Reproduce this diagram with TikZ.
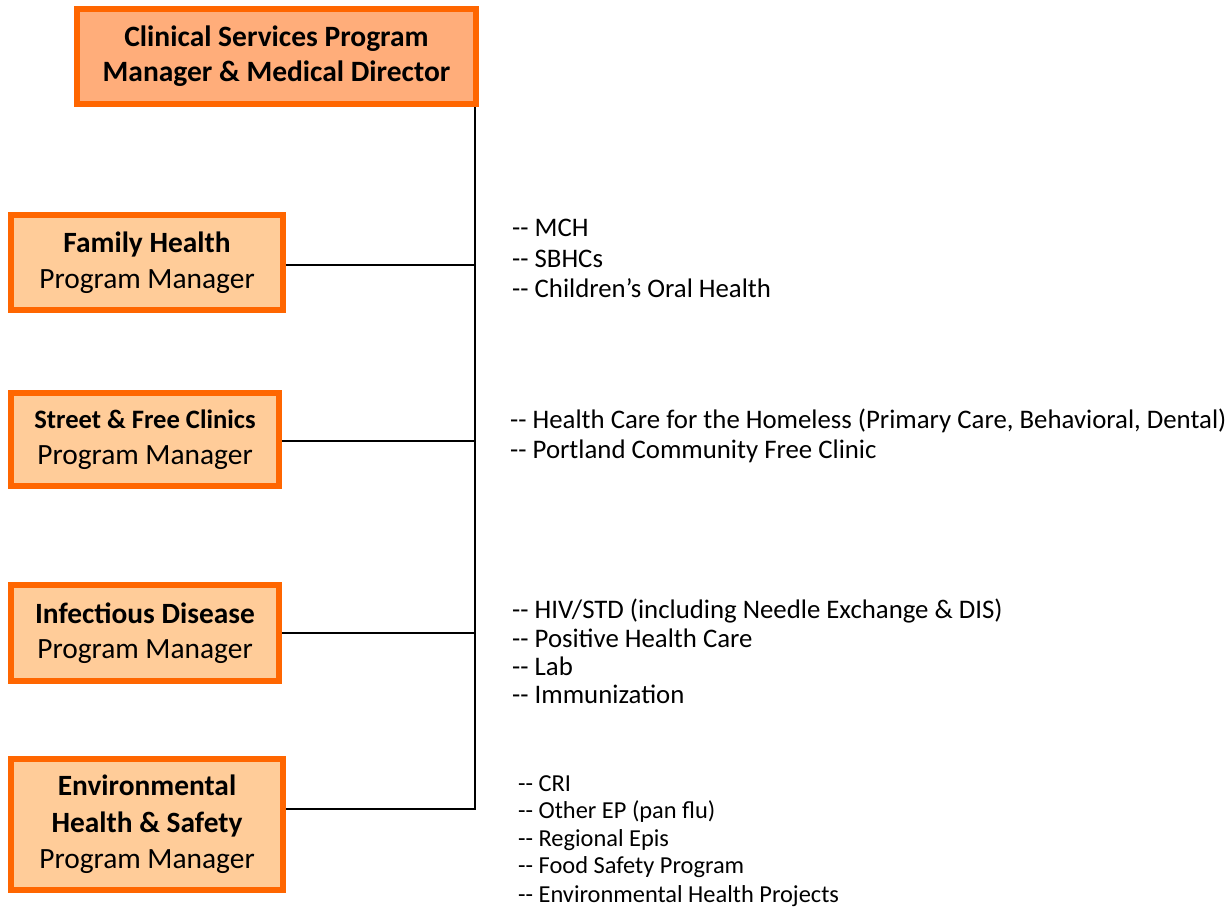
\documentclass[tikz,border=0pt]{standalone}
\usepackage{fontspec}
\setmainfont{Carlito}
\definecolor{borderor}{HTML}{FF6600}
\definecolor{topfill}{HTML}{FFAD7A}
\definecolor{boxfill}{HTML}{FFCC99}
\begin{document}
\begin{tikzpicture}[x=1pt,y=-1pt,
  orgbox/.style={draw=borderor, line width=6pt, fill=boxfill, align=center, inner sep=0pt,
     font=\fontsize{29.4}{35.5}\selectfont},
  topbox/.style={orgbox, fill=topfill, font=\fontsize{29.5}{35}\selectfont\bfseries},
  item/.style={anchor=base west, inner sep=0pt, font=\fontsize{26.8}{30}\selectfont},
  itemsmall/.style={anchor=base west, inner sep=0pt, font=\fontsize{24.4}{27}\selectfont},
  link/.style={draw=black, line width=2pt}
]
\useasboundingbox (0,0) rectangle (1227,924);

\node[topbox, minimum width=399pt, minimum height=95pt] (top) at (276.5,56.5)
  {Clinical Services Program\\Manager \& Medical Director};
\node[orgbox, minimum width=272pt, minimum height=95pt] (fam) at (147,262.5)
  {\textbf{Family Health}\\Program Manager};
\node[orgbox, minimum width=268pt, minimum height=93pt] (street) at (145,439.5)
  {{\fontsize{26.6}{35}\selectfont\textbf{Street \& Free Clinics}}\\Program Manager};
\node[orgbox, minimum width=268pt, minimum height=96pt] (inf) at (145,633)
  {\textbf{Infectious Disease}\\Program Manager};
\node[orgbox, minimum width=272pt, minimum height=131pt, font=\fontsize{29.4}{36.5}\selectfont] (env) at (147,824.5)
  {\textbf{Environmental}\\\textbf{Health \& Safety}\\Program Manager};

\coordinate (jfam) at (475,265);
\coordinate (jstreet) at (475,441);
\coordinate (jinf) at (475,633);
\coordinate (jenv) at (475,809);

\draw[link] (top.south -| jenv) -- ([yshift=-1pt]jenv);
\draw[link] (fam.east |- jfam) -- (jfam);
\draw[link] (street.east |- jstreet) -- (jstreet);
\draw[link] (inf.east |- jinf) -- (jinf);
\draw[link] (env.east |- jenv) -- ([xshift=1pt]jenv);

\node[item] (a1) at (512,236) {-{}- MCH};
\node[item] (a2) at (512,267) {-{}- SBHCs};
\node[item] (a3) at (512,297) {-{}- Children’s Oral Health};

\node[item] (b1) at (510,428) {-{}- Health Care for the Homeless (Primary Care, Behavioral, Dental)};
\node[item] (b2) at (510,458) {-{}- Portland Community Free Clinic};

\node[item] (c1) at (512,618) {-{}- HIV/STD (including Needle Exchange \& DIS)};
\node[item] (c2) at (512,647) {-{}- Positive Health Care};
\node[item] (c3) at (512,675) {-{}- Lab};
\node[item] (c4) at (512,703) {-{}- Immunization};

\node[itemsmall] (d1) at (518,791) {-{}- CRI};
\node[itemsmall] (d2) at (518,818) {-{}- Other EP (pan flu)};
\node[itemsmall] (d3) at (518,846) {-{}- Regional Epis};
\node[itemsmall] (d4) at (518,873) {-{}- Food Safety Program};
\node[itemsmall] (d5) at (518,902) {-{}- Environmental Health Projects};
\end{tikzpicture}
\end{document}
